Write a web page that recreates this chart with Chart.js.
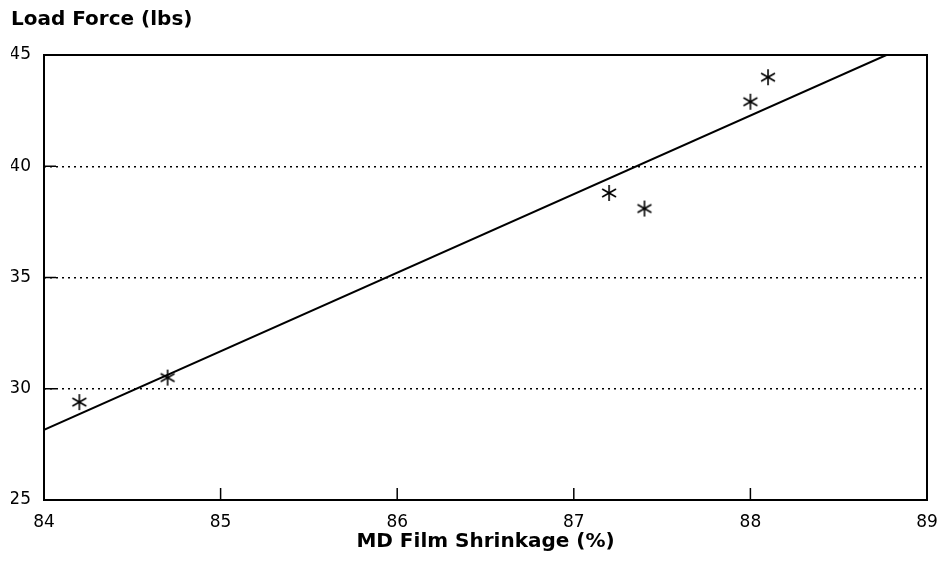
<!DOCTYPE html>
<html>
<head>
<meta charset="utf-8">
<script src="https://cdn.jsdelivr.net/npm/chart.js@4"></script>
<style>
    html, body { margin: 0; padding: 0; background: #fff; }
    #wrap { width: 940px; height: 569px; }
</style>
</head>
<body>
<div id="wrap"><canvas id="shrinkChart"></canvas></div>
<script>
// 量測點 (MD 收縮率 %, 負荷 lbs)
const shrinkage = [84.2, 84.7, 87.2, 87.4, 88.0, 88.1];
const loadForce = [29.4, 30.5, 38.8, 38.1, 42.9, 44.0];

// 迴歸線兩端點
const fitX = [84, 88.77];
const fitY = [28.15, 45];

// 座標軸刻度
const xTicks = [84, 85, 86, 87, 88, 89];
const yTicks = [25, 30, 35, 40, 45];

const FONT = "'DejaVu Sans', 'Liberation Sans', Arial, sans-serif";

// 星號標記 (六芒 *)
function makeAsterisk() {
    const c = document.createElement('canvas');
    c.width = 20;
    c.height = 20;
    const g = c.getContext('2d');
    g.strokeStyle = '#000';
    g.lineWidth = 1.6;
    const r = 8;
    for (let i = 0; i < 3; i++) {
        const a = Math.PI / 2 + i * Math.PI / 3;
        g.beginPath();
        g.moveTo(10 + r * Math.cos(a), 10 + r * Math.sin(a));
        g.lineTo(10 - r * Math.cos(a), 10 - r * Math.sin(a));
        g.stroke();
    }
    return c;
}

// 外框與內側刻度
const frameBox = {
    id: 'frameBox',
    afterDraw(chart) {
        const { ctx, chartArea: a, scales } = chart;
        ctx.save();
        ctx.strokeStyle = '#000';
        ctx.lineWidth = 2;
        ctx.strokeRect(a.left, a.top, a.right - a.left, a.bottom - a.top);
        ctx.lineWidth = 1.5;
        scales.x.ticks.forEach(t => {
            const px = scales.x.getPixelForValue(t.value);
            ctx.beginPath();
            ctx.moveTo(px, a.bottom);
            ctx.lineTo(px, a.bottom - 12);
            ctx.stroke();
        });
        scales.y.ticks.forEach(t => {
            const py = scales.y.getPixelForValue(t.value);
            ctx.beginPath();
            ctx.moveTo(a.left, py);
            ctx.lineTo(a.left + 12, py);
            ctx.stroke();
        });
        ctx.restore();
    }
};

const ctx = document.getElementById('shrinkChart').getContext('2d');

new Chart(ctx, {
    type: 'scatter',
    data: {
        datasets: [
            {
                label: 'Measured',
                data: shrinkage.map((x, i) => ({ x: x, y: loadForce[i] })),
                pointStyle: makeAsterisk(),
                pointRadius: 10,
                showLine: false
            },
            {
                label: 'Fit',
                data: fitX.map((x, i) => ({ x: x, y: fitY[i] })),
                showLine: true,
                borderColor: '#000',
                borderWidth: 2,
                pointRadius: 0
            }
        ]
    },
    plugins: [frameBox],
    options: {
        responsive: true,
        maintainAspectRatio: false,
        animation: false,
        layout: {
            padding: { left: 11, right: 13, top: 0, bottom: 15 }
        },
        plugins: {
            legend: { display: false },
            tooltip: { enabled: false },
            title: {
                display: true,
                text: 'Load Force (lbs)',
                align: 'start',
                color: '#000',
                font: { family: FONT, size: 20, weight: 'bold' },
                padding: { top: 8, bottom: 23 }
            }
        },
        scales: {
            x: {
                type: 'linear',
                min: 84,
                max: 89,
                afterBuildTicks: s => { s.ticks = xTicks.map(v => ({ value: v })); },
                afterFit: s => { s.height = 54; s.paddingLeft = 0; s.paddingRight = 0; },
                grid: { display: false, drawTicks: false },
                border: { display: false },
                ticks: {
                    color: '#000',
                    padding: 12,
                    font: { family: FONT, size: 17 }
                },
                title: {
                    display: true,
                    text: 'MD Film Shrinkage (%)',
                    color: '#000',
                    font: { family: FONT, size: 20, weight: 'bold' },
                    padding: { top: 2, bottom: 0 }
                }
            },
            y: {
                type: 'linear',
                min: 25,
                max: 45,
                afterBuildTicks: s => { s.ticks = yTicks.map(v => ({ value: v })); },
                afterFit: s => { s.width = 33; },
                grid: {
                    color: '#000',
                    lineWidth: 1.5,
                    drawTicks: false
                },
                // v4: 格線虛線樣式放在 border.dash
                border: { display: false, dash: [2, 4] },
                ticks: {
                    color: '#000',
                    padding: 13,
                    font: { family: FONT, size: 17 }
                }
            }
        }
    }
});
</script>
</body>
</html>
